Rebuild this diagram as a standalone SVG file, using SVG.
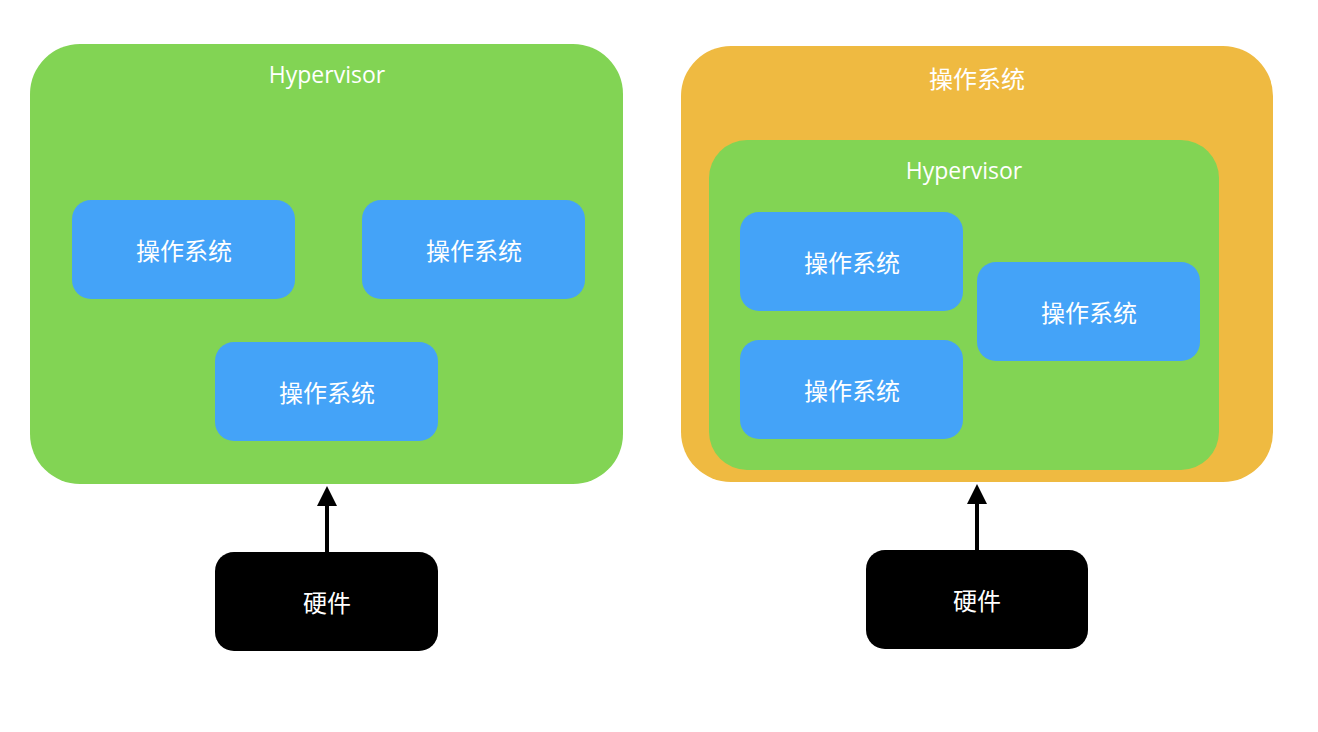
<svg xmlns="http://www.w3.org/2000/svg" width="1318" height="732" viewBox="0 0 1318 732">
<style>
.green{fill:#82d454}
.orange{fill:#efba41}
.blue{fill:#44a3f8}
.hw{fill:#000}
text{fill:#fff;font-family:"Open Sans","Noto Sans CJK SC",sans-serif;font-size:24px;text-anchor:middle;dominant-baseline:central}
text.en{font-size:23px}
.conn{stroke:#000;stroke-width:4;fill:none}
</style>
<defs>
<marker id="arr" markerWidth="5" markerHeight="5" refX="2.5" refY="2.5" orient="auto" markerUnits="strokeWidth"><path d="M0,0 L5,2.5 L0,5 Z" fill="#000"/></marker>
</defs>
<rect width="1318" height="732" fill="#fff"/>
<g id="hv1"><rect class="green" x="30" y="44" width="593" height="440" rx="50"/><text class="en" x="327" y="74">Hypervisor</text></g>
<g id="os1"><rect class="blue" x="72" y="200" width="223" height="99" rx="19"/><text x="184" y="250">操作系统</text></g>
<g id="os2"><rect class="blue" x="362" y="200" width="223" height="99" rx="19"/><text x="474" y="250">操作系统</text></g>
<g id="os3"><rect class="blue" x="215" y="342" width="223" height="99" rx="19"/><text x="327" y="392">操作系统</text></g>
<g id="hw1"><rect class="hw" x="215" y="552" width="223" height="99" rx="19"/><text x="327" y="602">硬件</text></g>
<g id="host"><rect class="orange" x="681" y="46" width="592" height="436" rx="50"/><text x="977" y="78">操作系统</text></g>
<g id="hv2"><rect class="green" x="709" y="140" width="510" height="330" rx="38"/><text class="en" x="964" y="170">Hypervisor</text></g>
<g id="os4"><rect class="blue" x="740" y="212" width="223" height="99" rx="19"/><text x="852" y="262">操作系统</text></g>
<g id="os5"><rect class="blue" x="740" y="340" width="223" height="99" rx="19"/><text x="852" y="390">操作系统</text></g>
<g id="os6"><rect class="blue" x="977" y="262" width="223" height="99" rx="19"/><text x="1089" y="312">操作系统</text></g>
<g id="hw2"><rect class="hw" x="866" y="550" width="222" height="99" rx="19"/><text x="977" y="600">硬件</text></g>
<g id="connectors">
<line class="conn" x1="327" y1="552" x2="327" y2="496" marker-end="url(#arr)"/>
<line class="conn" x1="977" y1="550" x2="977" y2="494" marker-end="url(#arr)"/>
</g>
</svg>
